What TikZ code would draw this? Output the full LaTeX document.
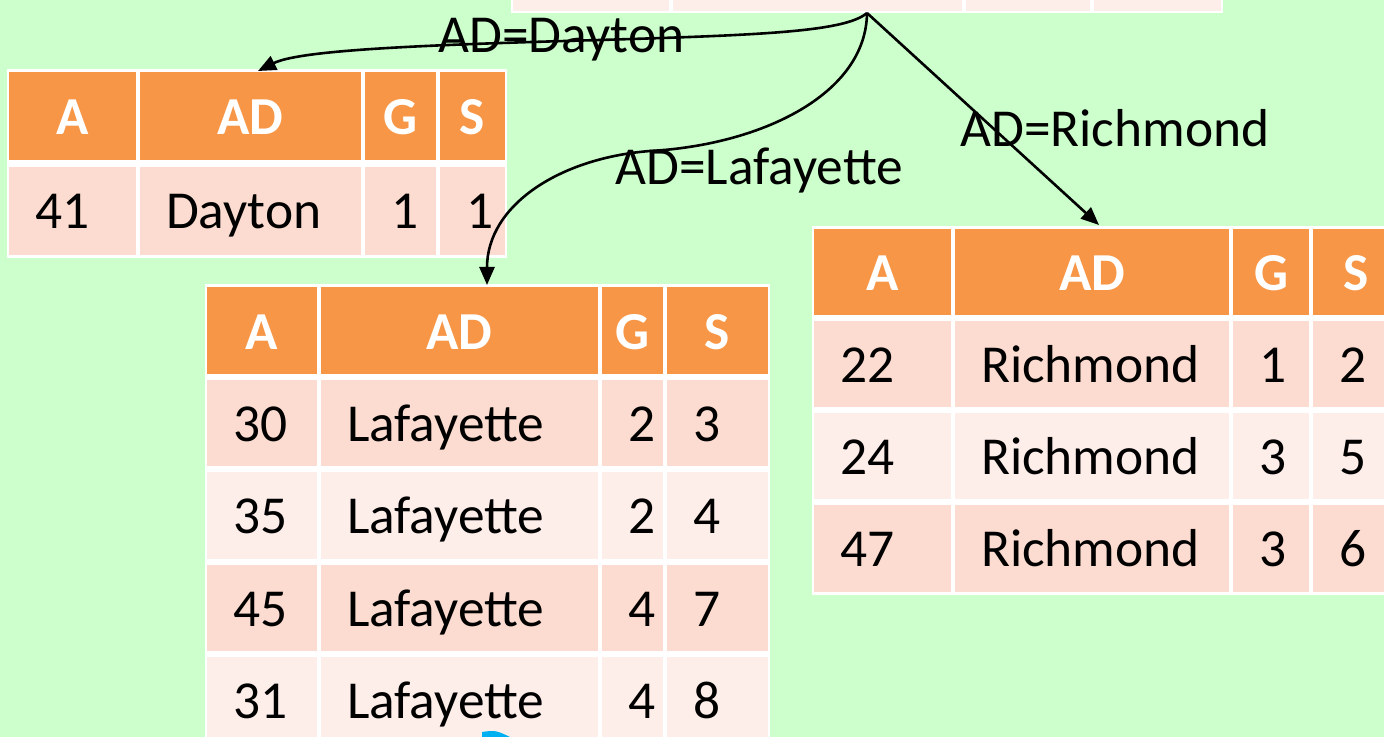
\documentclass[tikz,border=0pt]{standalone}
\usepackage{fontspec}
\setmainfont{Carlito}
\usetikzlibrary{arrows.meta}
\definecolor{bg}{HTML}{CCFFCC}
\definecolor{hdr}{HTML}{F79646}
\definecolor{rowa}{HTML}{FCDCD0}
\definecolor{rowb}{HTML}{FDEEEA}
\definecolor{cyanmark}{HTML}{00B0F0}
\tikzset{
  cellbox/.style={rectangle, inner sep=0pt, draw=none},
  hdrtxt/.style={font=\fontsize{26.7}{30}\selectfont\bfseries, text=white, inner sep=0pt, anchor=base},
  celltxt/.style={font=\fontsize{26.7}{30}\selectfont, text=black, inner sep=0pt, anchor=base west},
  lbl/.style={font=\fontsize{26.7}{30}\selectfont, text=black, inner sep=0pt, anchor=base west},
  conn/.style={line width=1.3pt, -{Triangle[length=9pt,width=7.5pt]}},
}
% #1 name prefix, #2 top y, #3 bottom y, #4 list a/b/text
\newcommand\hdrrow[4]{%
  \foreach \a/\b/\t [count=\i] in {#4}{%
    \node[cellbox, fill=hdr, minimum width={(\b-\a)*0.5pt}, minimum height={(#3-#2)*0.5pt}]
      (#1c\i) at ({(\a+\b)/2},{(#2+#3)/2}) {};
    \node[hdrtxt] (#1t\i) at ([yshift=-9.5pt]#1c\i.center) {\t};
  }}
% #1 name prefix, #2 top y, #3 bottom y, #4 fill, #5 list a/b/text
\newcommand\bodyrow[5]{%
  \foreach \a/\b/\t [count=\i] in {#5}{%
    \node[cellbox, fill=#4, minimum width={(\b-\a)*0.5pt}, minimum height={(#3-#2)*0.5pt}]
      (#1c\i) at ({(\a+\b)/2},{(#2+#3)/2}) {};
    \node[celltxt] (#1t\i) at ([xshift=13pt,yshift=-9pt]#1c\i.west) {\t};
  }}
\begin{document}
\begin{tikzpicture}[x=0.5pt,y=-0.5pt]
\useasboundingbox (0,0) rectangle (1384,737);
\fill[bg] (0,0) rectangle (1384,737);
\clip (0,0) rectangle (1384,737);

% top (source) table, mostly outside the picture
\fill[white] (511,-40) rectangle (1223,13);
\bodyrow{top}{-40}{11}{rowb}{513/669/{},673/962/{},966/1090/{},1094/1221/{}}

% Dayton table
\fill[white] (7,69) rectangle (507,258);
\hdrrow{dh}{72}{160}{9/136/A,140/361/AD,365/436/G,440/505/S}
\bodyrow{da}{167}{255}{rowa}{9/136/41,140/361/Dayton,365/436/1,440/505/1}

% Lafayette table
\fill[white] (205,284) rectangle (770,760);
\hdrrow{lh}{287}{374}{207/317/A,321/598/AD,602/663/G,667/768/S}
\bodyrow{la}{380}{466}{rowa}{207/317/30,321/598/Lafayette,602/663/2,667/768/3}
\bodyrow{lb}{472}{559}{rowb}{207/317/35,321/598/Lafayette,602/663/2,667/768/4}
\bodyrow{lc}{565}{651}{rowa}{207/317/45,321/598/Lafayette,602/663/4,667/768/7}
\bodyrow{ld}{657}{744}{rowb}{207/317/31,321/598/Lafayette,602/663/4,667/768/8}

% Richmond table
\fill[white] (812,226) rectangle (1420,595);
\hdrrow{rh}{229}{315}{814/951/A,955/1229/AD,1233/1309/G,1313/1400/S}
\bodyrow{ra}{321}{407}{rowa}{814/951/22,955/1229/Richmond,1233/1309/1,1313/1400/2}
\bodyrow{rb}{413}{499}{rowb}{814/951/24,955/1229/Richmond,1233/1309/3,1313/1400/5}
\bodyrow{rc}{505}{592}{rowa}{814/951/47,955/1229/Richmond,1233/1309/3,1313/1400/6}

% cyan mark at the bottom edge
\fill[cyanmark] (482,740) -- (482,732) .. controls (496,730) .. (516,740) -- cycle;

% connectors
\coordinate (src) at (867,13);
\coordinate (dtgt) at (258,71);
\coordinate (ltgt) at (487,285);
\coordinate (rtgt) at (1099,225);
\coordinate (dmid) at (600,40);
\coordinate (lmid) at (650,151);
\draw[conn] (src) .. controls (845,32) and (760,35) .. (dmid) .. controls (420,45) and (300,50) .. (dtgt);
\draw[conn] (src) .. controls (866,95) and (760,145) .. (lmid) .. controls (560,158) and (487,205) .. (ltgt);
\draw[conn] (src) -- (rtgt);

% labels
\node[lbl] (ldayton) at (438,53) {AD=Dayton};
\node[lbl] (llaf) at (615,185) {AD=Lafayette};
\node[lbl] (lrich) at (960,147) {AD=Richmond};
\end{tikzpicture}
\end{document}
